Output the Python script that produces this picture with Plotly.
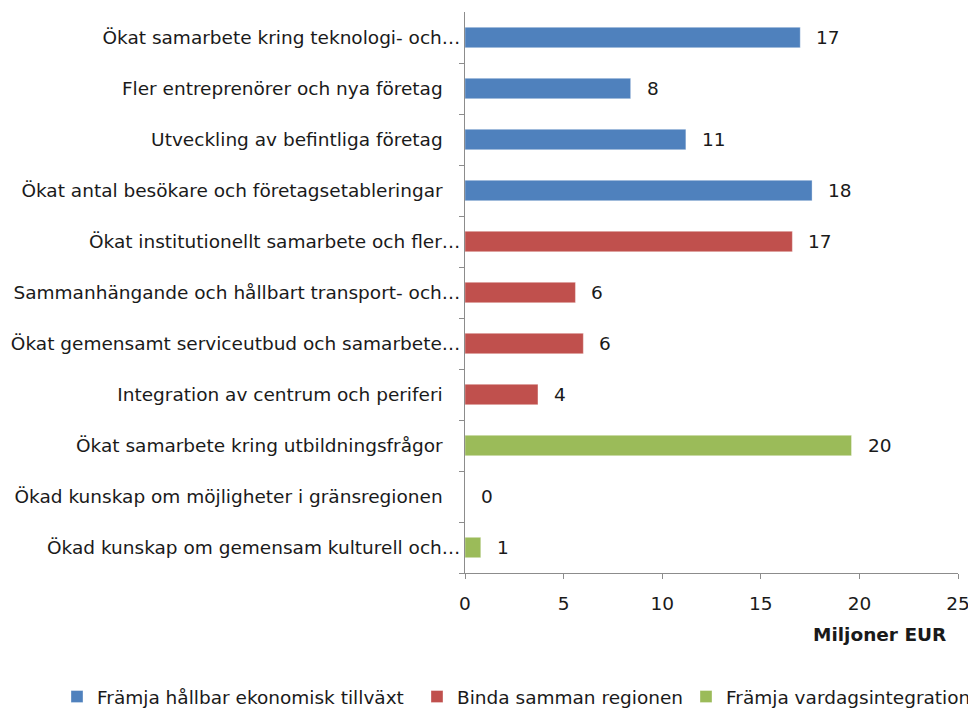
import plotly.graph_objects as go

categories = [
    "Ökat samarbete kring teknologi- och…",
    "Fler entreprenörer och nya företag",
    "Utveckling av befintliga företag",
    "Ökat antal besökare och företagsetableringar",
    "Ökat institutionellt samarbete och fler…",
    "Sammanhängande och hållbart transport- och…",
    "Ökat gemensamt serviceutbud och samarbete…",
    "Integration av centrum och periferi",
    "Ökat samarbete kring utbildningsfrågor",
    "Ökad kunskap om möjligheter i gränsregionen",
    "Ökad kunskap om gemensam kulturell och…",
]
values = [17.0, 8.4, 11.2, 17.6, 16.6, 5.6, 6.0, 3.7, 19.6, 0.0, 0.8]
series_of = [0, 0, 0, 0, 1, 1, 1, 1, 2, 2, 2]
series_names = ["Främja hållbar ekonomisk tillväxt", "Binda samman regionen", "Främja vardagsintegration"]
series_colors = ["#4F81BD", "#C0504D", "#9BBB59"]
x_ticks = [0, 5, 10, 15, 20, 25]
x_title = "Miljoner EUR"

FONT = "DejaVu Sans"
FS = 18.5
TXT = "#1a1a1a"
AX = "#8c8c8c"

def tick_text(c):
    return c if c.endswith("…") else c + "\u00a0\u00a0\u00a0"

legend_ids = ["legend", "legend2", "legend3"]
legend_x = [-0.8276, -0.0974, 0.4604]

fig = go.Figure()
for s, name in enumerate(series_names):
    ys = [c for c, g in zip(categories, series_of) if g == s]
    xs = [v for v, g in zip(values, series_of) if g == s]
    fig.add_trace(go.Bar(
        y=ys, x=xs, orientation="h", name=name, width=0.4, legend=legend_ids[s],
        marker=dict(color=series_colors[s], line=dict(color="rgba(255,255,255,0.35)", width=1)),
        hoverinfo="x+y",
    ))

for c, v in zip(categories, values):
    fig.add_annotation(x=v, y=c, xref="x", yref="y", text=f"{v:.0f}", showarrow=False,
                       xanchor="left", xshift=14, font=dict(family=FONT, size=FS, color=TXT))

fig.add_annotation(x=0.98, y=0, xref="paper", yref="paper", yshift=-61, text=f"<b>{x_title}</b>",
                   showarrow=False, xanchor="right", yanchor="middle",
                   font=dict(family=FONT, size=FS, color=TXT))

legend_common = dict(orientation="h", xref="paper", yref="container", y=0.0213,
                     xanchor="left", yanchor="middle", font=dict(family=FONT, size=FS, color=TXT),
                     itemwidth=30, bgcolor="rgba(0,0,0,0)")

fig.update_layout(
    width=968, height=704,
    margin=dict(l=457, r=18, t=4, b=139),
    paper_bgcolor="white", plot_bgcolor="white",
    barmode="overlay",
    font=dict(family=FONT, size=FS, color=TXT),
    showlegend=True,
    legend=dict(x=legend_x[0], **legend_common),
    legend2=dict(x=legend_x[1], **legend_common),
    legend3=dict(x=legend_x[2], **legend_common),
    xaxis=dict(range=[0, 25], tickvals=x_ticks, showgrid=False, zeroline=False,
               showline=True, linecolor=AX, linewidth=1, ticks="outside", ticklen=5, tickcolor=AX,
               ticklabelstandoff=9, tickfont=dict(family=FONT, size=FS, color=TXT), fixedrange=True),
    yaxis=dict(type="category", categoryorder="array", categoryarray=categories[::-1],
               tickvals=categories, ticktext=[tick_text(c) for c in categories],
               range=[-0.5, len(categories) - 0.5],
               showgrid=False, zeroline=False, showline=True, linecolor=AX, linewidth=1,
               ticks="outside", ticklen=5, tickcolor=AX, tickson="boundaries",
               tickfont=dict(family=FONT, size=FS, color=TXT), fixedrange=True),
)

fig.write_html("out.html")
